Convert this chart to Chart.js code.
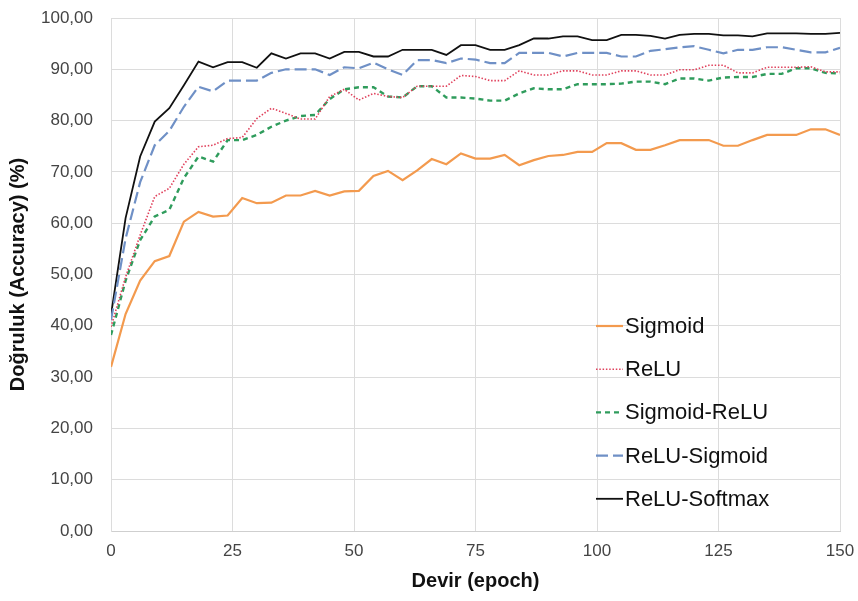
<!DOCTYPE html>
<html>
<head>
<meta charset="utf-8">
<script src="https://cdn.jsdelivr.net/npm/chart.js@4.4.1/dist/chart.umd.min.js"></script>
<style>
    body { margin: 0; background: #fff; }
    canvas { display: block; }
</style>
</head>
<body>
<canvas id="accCanvas" width="858" height="601"></canvas>
<script>
// epoch numbers (one sample every 3 epochs)
const epochs = [0, 3, 6, 9, 12, 15, 18, 21, 24, 27, 30, 33, 36, 39, 42, 45, 48, 51, 54, 57,
    60, 63, 66, 69, 72, 75, 78, 81, 84, 87, 90, 93, 96, 99, 102, 105, 108, 111, 114, 117,
    120, 123, 126, 129, 132, 135, 138, 141, 144, 147, 150];

// accuracy (%) per activation setup
const sigmoidAcc = [32.0, 42.3, 48.8, 52.6, 53.6, 60.3, 62.2, 61.3, 61.5, 64.9, 63.9, 64.0, 65.4,
    65.4, 66.3, 65.4, 66.2, 66.3, 69.2, 70.2, 68.4, 70.3, 72.5, 71.5, 73.6, 72.6, 72.6, 73.3,
    71.3, 72.3, 73.1, 73.3, 73.9, 73.9, 75.6, 75.6, 74.3, 74.3, 75.2, 76.2, 76.2, 76.2, 75.1,
    75.1, 76.2, 77.2, 77.2, 77.2, 78.3, 78.3, 77.2];
const reluAcc = [39.8, 49.5, 57.7, 65.2, 66.8, 71.5, 74.9, 75.2, 76.5, 76.7, 80.4, 82.4, 81.4,
    80.3, 80.3, 84.7, 86.1, 84.0, 85.3, 84.7, 84.5, 86.7, 86.7, 86.7, 88.8, 88.6, 87.8, 87.8,
    89.7, 88.9, 88.9, 89.7, 89.7, 88.9, 88.9, 89.7, 89.7, 88.9, 88.9, 89.9, 89.9, 90.8, 90.8,
    89.3, 89.3, 90.4, 90.4, 90.4, 90.5, 89.5, 89.5];
const sigmoidReluAcc = [38.2, 48.8, 56.7, 61.3, 62.6, 68.8, 73.0, 72.0, 76.2, 76.2, 77.2, 78.8, 80.0,
    80.9, 81.1, 84.2, 86.1, 86.5, 86.5, 84.7, 84.5, 86.7, 86.7, 84.5, 84.5, 84.3, 83.9, 83.9,
    85.3, 86.3, 86.1, 86.1, 87.1, 87.1, 87.1, 87.2, 87.6, 87.6, 87.1, 88.2, 88.2, 87.8, 88.4,
    88.5, 88.5, 89.1, 89.1, 90.2, 90.2, 89.3, 89.2];
const reluSigmoidAcc = [41.1, 57.0, 68.0, 75.2, 78.0, 82.7, 86.6, 85.7, 87.8, 87.8, 87.8, 89.3, 90.0,
    90.0, 90.0, 88.9, 90.4, 90.2, 91.3, 90.0, 88.9, 91.8, 91.8, 91.2, 92.1, 91.9, 91.2, 91.2,
    93.2, 93.2, 93.2, 92.5, 93.2, 93.2, 93.2, 92.5, 92.5, 93.6, 93.9, 94.3, 94.5, 93.8, 93.1,
    93.8, 93.8, 94.3, 94.3, 93.8, 93.3, 93.3, 94.2];
const reluSoftmaxAcc = [42.1, 61.0, 73.0, 79.8, 82.4, 86.9, 91.5, 90.4, 91.4, 91.4, 90.3, 93.1, 92.1,
    93.1, 93.1, 92.1, 93.4, 93.4, 92.5, 92.5, 93.8, 93.8, 93.8, 92.8, 94.7, 94.7, 93.8, 93.8,
    94.7, 96.0, 96.0, 96.4, 96.4, 95.7, 95.7, 96.7, 96.7, 96.5, 96.0, 96.7, 96.9, 96.9, 96.6,
    96.6, 96.4, 97.0, 97.0, 97.0, 96.9, 96.9, 97.1];

const seriesNames = ['Sigmoid', 'ReLU', 'Sigmoid-ReLU', 'ReLU-Sigmoid', 'ReLU-Softmax'];
const xTicks = [0, 25, 50, 75, 100, 125, 150];

function toPoints(values) {
    return values.map((v, i) => ({ x: epochs[i], y: v }));
}

const tickFont = { family: "'Liberation Sans', Arial, sans-serif", size: 17 };
const titleFont = { family: "'Liberation Sans', Arial, sans-serif", size: 20, weight: 'bold' };

// legend drawn inside the plot area, lower right
const insideLegend = {
    id: 'insideLegend',
    afterDatasetsDraw(chart) {
        const ctx = chart.ctx;
        const area = chart.chartArea;
        const x0 = area.left + 485;
        const y0 = area.top + 308;
        ctx.save();
        ctx.font = "22px 'Liberation Sans', Arial, sans-serif";
        ctx.textBaseline = 'middle';
        chart.data.datasets.forEach((ds, i) => {
            const y = y0 + i * 43.2;
            ctx.strokeStyle = ds.borderColor;
            ctx.lineWidth = ds.borderWidth;
            ctx.setLineDash(ds.borderDash || []);
            ctx.beginPath();
            ctx.moveTo(x0, y);
            ctx.lineTo(x0 + 27, y);
            ctx.stroke();
            ctx.setLineDash([]);
            ctx.fillStyle = '#111';
            ctx.fillText(ds.label, x0 + 29, y + 1);
        });
        ctx.restore();
    }
};

const ctx = document.getElementById('accCanvas').getContext('2d');
const chart = new Chart(ctx, {
    type: 'line',
    data: {
        datasets: [
            {
                label: seriesNames[0],
                data: toPoints(sigmoidAcc),
                borderColor: '#f39a4e',
                borderWidth: 2.2
            },
            {
                label: seriesNames[1],
                data: toPoints(reluAcc),
                borderColor: '#e0415c',
                borderWidth: 1.6,
                borderDash: [1.5, 1.8]
            },
            {
                label: seriesNames[2],
                data: toPoints(sigmoidReluAcc),
                borderColor: '#2f9c5c',
                borderWidth: 2.4,
                borderDash: [5, 4]
            },
            {
                label: seriesNames[3],
                data: toPoints(reluSigmoidAcc),
                borderColor: '#6f90c6',
                borderWidth: 2.2,
                borderDash: [12, 5]
            },
            {
                label: seriesNames[4],
                data: toPoints(reluSoftmaxAcc),
                borderColor: '#111111',
                borderWidth: 1.8
            }
        ]
    },
    options: {
        responsive: false,
        animation: false,
        elements: {
            point: { radius: 0 },
            line: { tension: 0, fill: false }
        },
        layout: {
            padding: { left: 0, right: 18, top: 18, bottom: 0 }
        },
        scales: {
            x: {
                type: 'linear',
                min: 0,
                max: 150,
                afterBuildTicks: scale => {
                    scale.ticks = xTicks.map(v => ({ value: v }));
                },
                afterFit: scale => {
                    scale.height = 70;
                    scale.paddingLeft = 0;
                    scale.paddingRight = 0;
                },
                grid: { color: '#dcdcdc', drawTicks: false },
                border: { color: '#cfcfcf' },
                ticks: {
                    font: tickFont,
                    color: '#444',
                    padding: 10,
                    maxRotation: 0
                },
                title: {
                    display: true,
                    text: 'Devir (epoch)',
                    font: titleFont,
                    color: '#111',
                    padding: { top: 0, bottom: 8 }
                }
            },
            y: {
                min: 0,
                max: 100,
                afterFit: scale => {
                    scale.width = 111;
                    scale.paddingTop = 0;
                    scale.paddingBottom = 0;
                },
                grid: { color: '#dcdcdc', drawTicks: false },
                border: { color: '#dcdcdc' },
                ticks: {
                    stepSize: 10,
                    font: tickFont,
                    color: '#444',
                    padding: 18,
                    callback: value => value.toFixed(2).replace('.', ',')
                },
                title: {
                    display: true,
                    text: 'Doğruluk (Accuracy) (%)',
                    font: titleFont,
                    color: '#111',
                    padding: { top: 6, bottom: 0 }
                }
            }
        },
        plugins: {
            legend: { display: false },
            tooltip: { enabled: false }
        }
    },
    plugins: [insideLegend]
});
</script>
</body>
</html>
